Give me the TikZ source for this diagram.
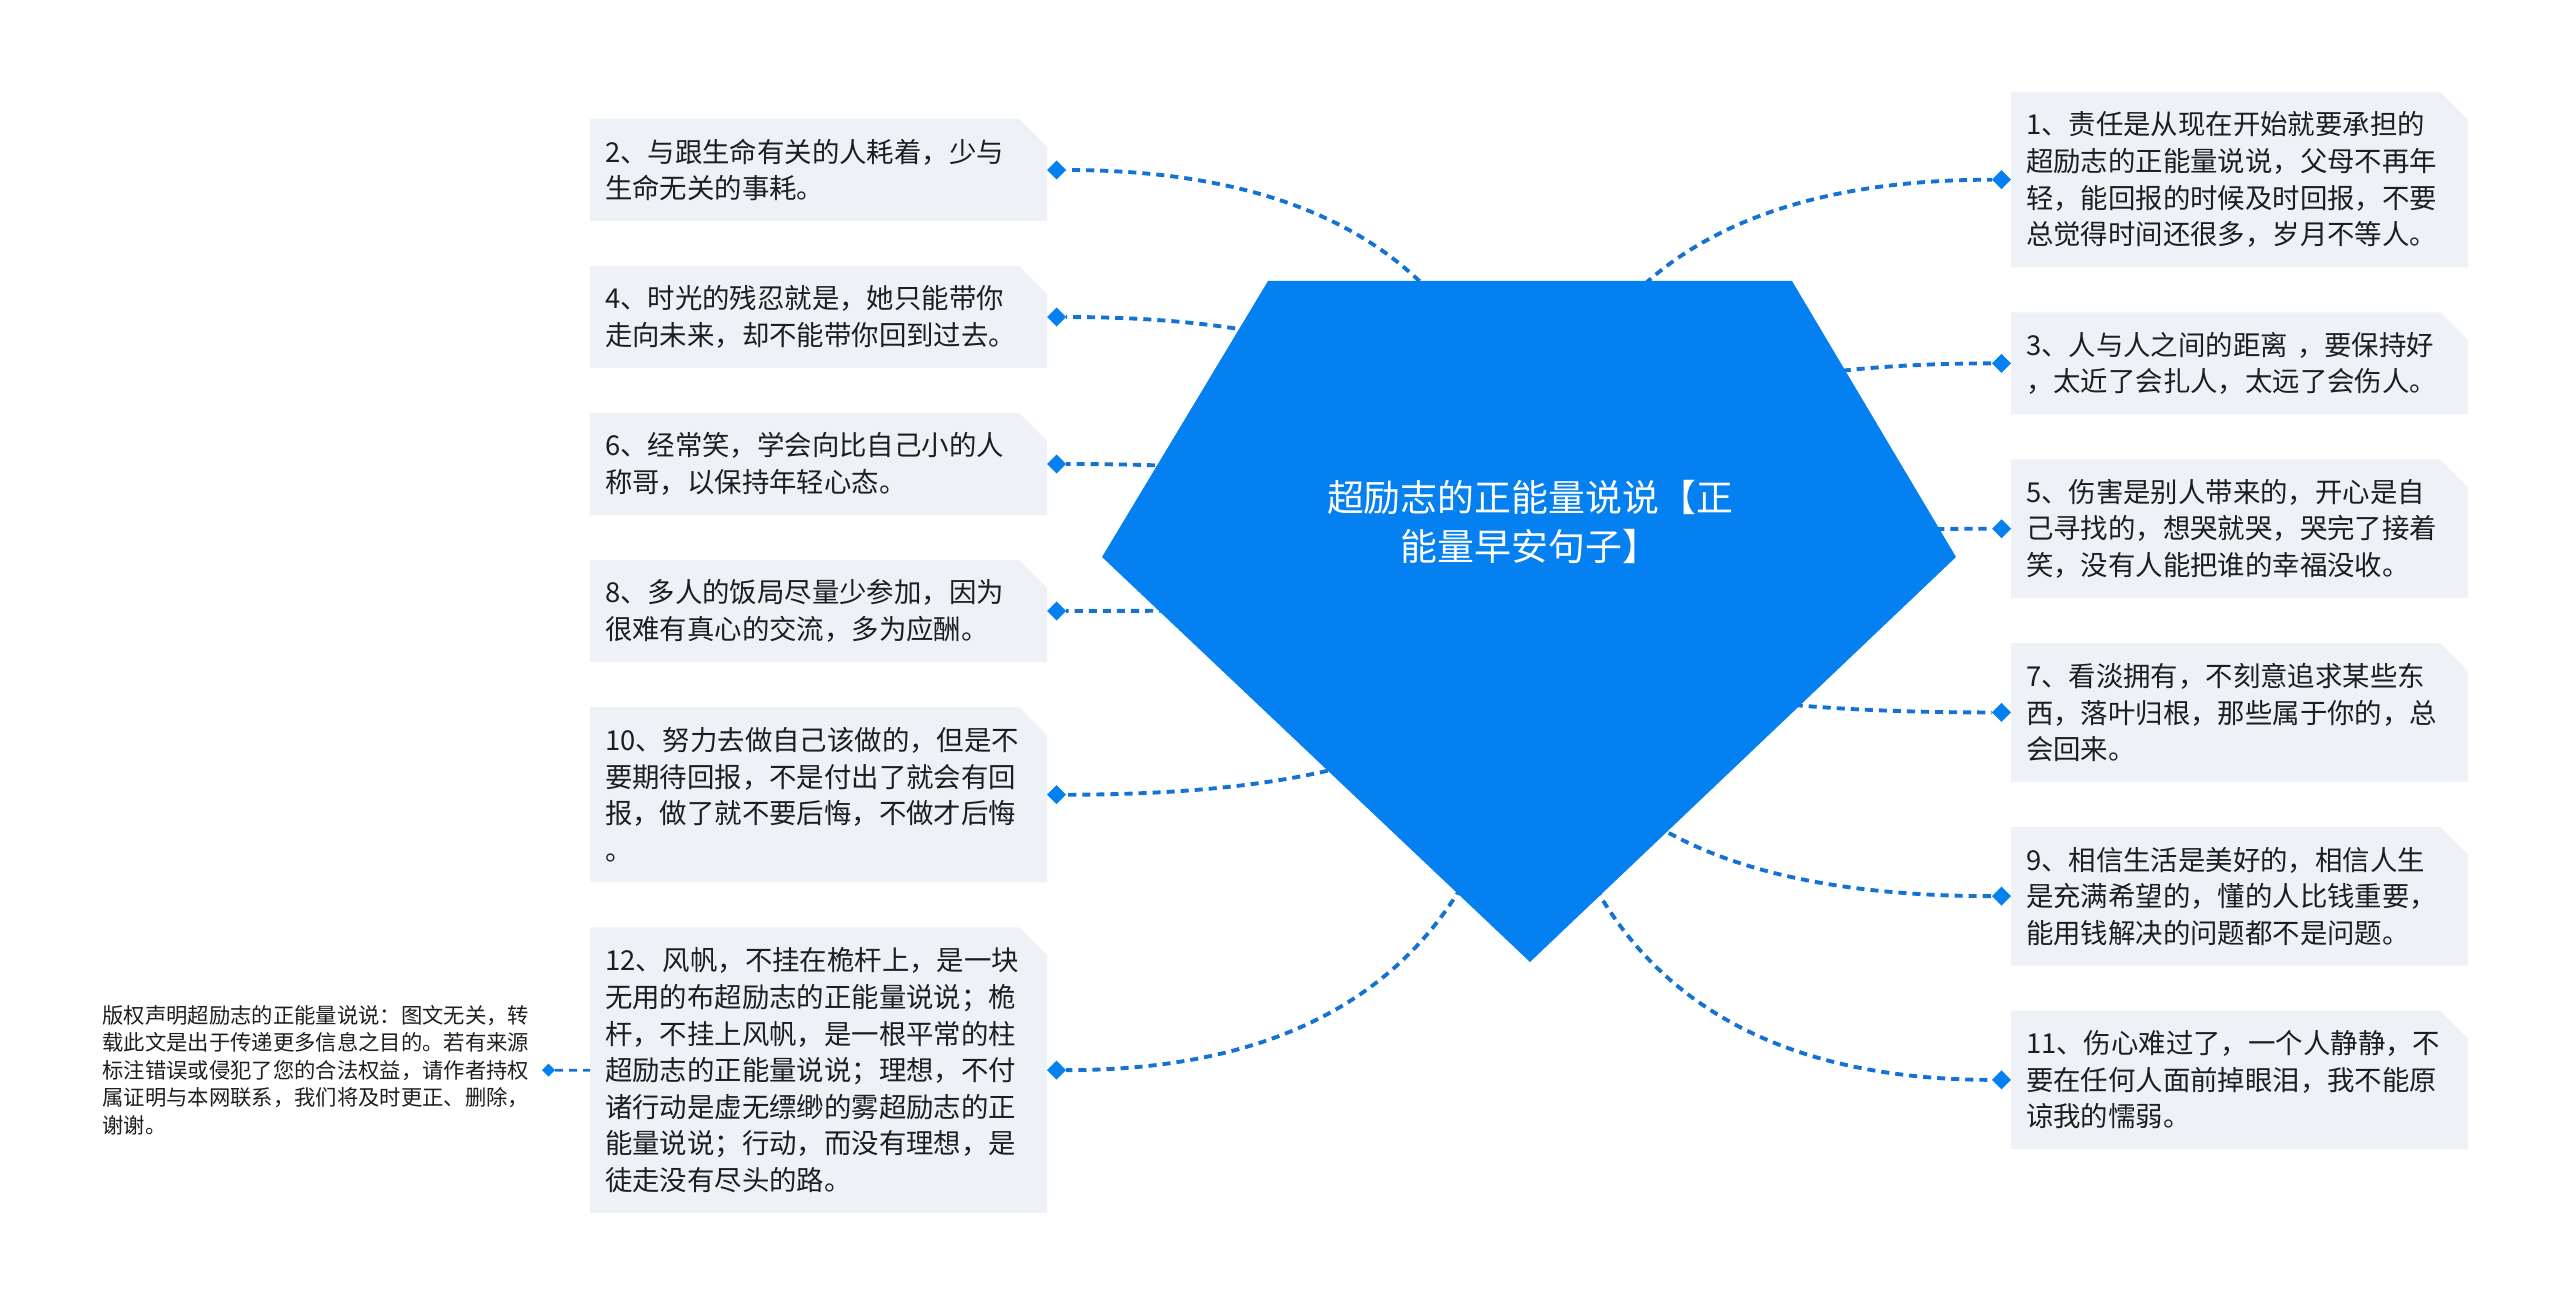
\documentclass[tikz,border=0pt]{standalone}
\usepackage{fontspec}
\setmainfont{Noto Sans CJK SC}
\usetikzlibrary{positioning,calc,shapes.misc,shapes.geometric}
\definecolor{rootblue}{HTML}{0480F0}
\definecolor{linkblue}{HTML}{1473D2}
\definecolor{boxfill}{HTML}{EEF1F5}
\definecolor{ink}{HTML}{1E1E1E}
\pgfdeclarelayer{bg}
\pgfsetlayers{bg,main}
\tikzset{
  leaf/.style={chamfered rectangle, chamfered rectangle corners=north east,
    chamfered rectangle sep=0.14cm, fill=boxfill, text=ink,
    font=\fontsize{7.8pt}{10.4pt}\selectfont, align=left, text width=4.27cm,
    inner xsep=0.01cm, inner ysep=0pt, outer sep=0pt, minimum height=#1*0.367cm+0.286cm},
  joint/.style={diamond, fill=rootblue, inner sep=0pt, outer sep=0pt, minimum size=0.19cm},
  smalljoint/.style={diamond, fill=rootblue, inner sep=0pt, outer sep=0pt, minimum size=0.13cm},
  link/.style={draw=linkblue, line width=1.1pt, dash pattern=on 2.3pt off 1.7pt},
  note/.style={text=ink, font=\fontsize{6.07pt}{7.8pt}\selectfont, align=left, inner sep=0pt},
  rootlabel/.style={text=white, font=\fontsize{10.5pt}{13.9pt}\selectfont, align=center, inner sep=0pt}
}
\begin{document}
\begin{tikzpicture}
                \useasboundingbox (0,0) rectangle (25.6,-13.05);
                \node[leaf=2, anchor=north west] (b2) at (5.90,-1.19) {2、与跟生命有关的人耗着，少与\\生命无关的事耗。};
                \node[leaf=2, below=0.45cm of b2] (b4) {4、时光的残忍就是，她只能带你\\走向未来，却不能带你回到过去。};
                \node[leaf=2, below=0.45cm of b4] (b6) {6、经常笑，学会向比自己小的人\\称哥，以保持年轻心态。};
                \node[leaf=2, below=0.45cm of b6] (b8) {8、多人的饭局尽量少参加，因为\\很难有真心的交流，多为应酬。};
                \node[leaf=4, below=0.45cm of b8] (b10) {10、努力去做自己该做的，但是不\\要期待回报，不是付出了就会有回\\报，做了就不要后悔，不做才后悔\\。};
                \node[leaf=7, below=0.45cm of b10] (b12) {12、风帆，不挂在桅杆上，是一块\\无用的布超励志的正能量说说；桅\\杆，不挂上风帆，是一根平常的柱\\超励志的正能量说说；理想，不付\\诸行动是虚无缥缈的雾超励志的正\\能量说说；行动，而没有理想，是\\徒走没有尽头的路。};
                \node[leaf=4, anchor=north west] (b1) at (20.11,-0.92) {1、责任是从现在开始就要承担的\\超励志的正能量说说，父母不再年\\轻，能回报的时候及时回报，不要\\总觉得时间还很多，岁月不等人。};
                \node[leaf=2, below=0.45cm of b1] (b3) {3、人与人之间的距离 ，要保持好\\，太近了会扎人，太远了会伤人。};
                \node[leaf=3, below=0.45cm of b3] (b5) {5、伤害是别人带来的，开心是自\\己寻找的，想哭就哭，哭完了接着\\笑，没有人能把谁的幸福没收。};
                \node[leaf=3, below=0.45cm of b5] (b7) {7、看淡拥有，不刻意追求某些东\\西，落叶归根，那些属于你的，总\\会回来。};
                \node[leaf=3, below=0.45cm of b7] (b9) {9、相信生活是美好的，相信人生\\是充满希望的，懂的人比钱重要，\\能用钱解决的问题都不是问题。};
                \node[leaf=3, below=0.45cm of b9] (b11) {11、伤心难过了，一个人静静，不\\要在任何人面前掉眼泪，我不能原\\谅我的懦弱。};
                \foreach \i in {2,4,6,8,10,12} \node[joint, right=0pt of b\i] (d\i) {};
                \foreach \i in {1,3,5,7,9,11} \node[joint, left=0pt of b\i] (d\i) {};
                \coordinate (c) at (15.30,-5.90);
                \node[rootlabel] (root) at (15.30,-5.22) {超励志的正能量说说【正\\能量早安句子】};
                \begin{pgfonlayer}{bg}
                \foreach \i in {1,...,12}
                    \draw[link] (c) .. controls ($(c)!2/3!(c |- d\i)$) and ($(d\i)!2/3!(c |- d\i)$) .. (d\i);
                \fill[rootblue] (12.68,-2.81) -- (17.92,-2.81) -- (19.56,-5.57) -- (15.30,-9.62) -- (11.02,-5.57) -- cycle;
                \end{pgfonlayer}
                \node[smalljoint, left=0.35cm of b12] (cd) {};
                \node[note, left=0.12cm of cd] (cr) {版权声明超励志的正能量说说：图文无关，转\\载此文是出于传递更多信息之目的。若有来源\\标注错误或侵犯了您的合法权益，请作者持权\\属证明与本网联系，我们将及时更正、删除，\\谢谢。};
                \draw[link, line width=0.8pt] (cd) -- (b12);
            \end{tikzpicture}
\end{document}
